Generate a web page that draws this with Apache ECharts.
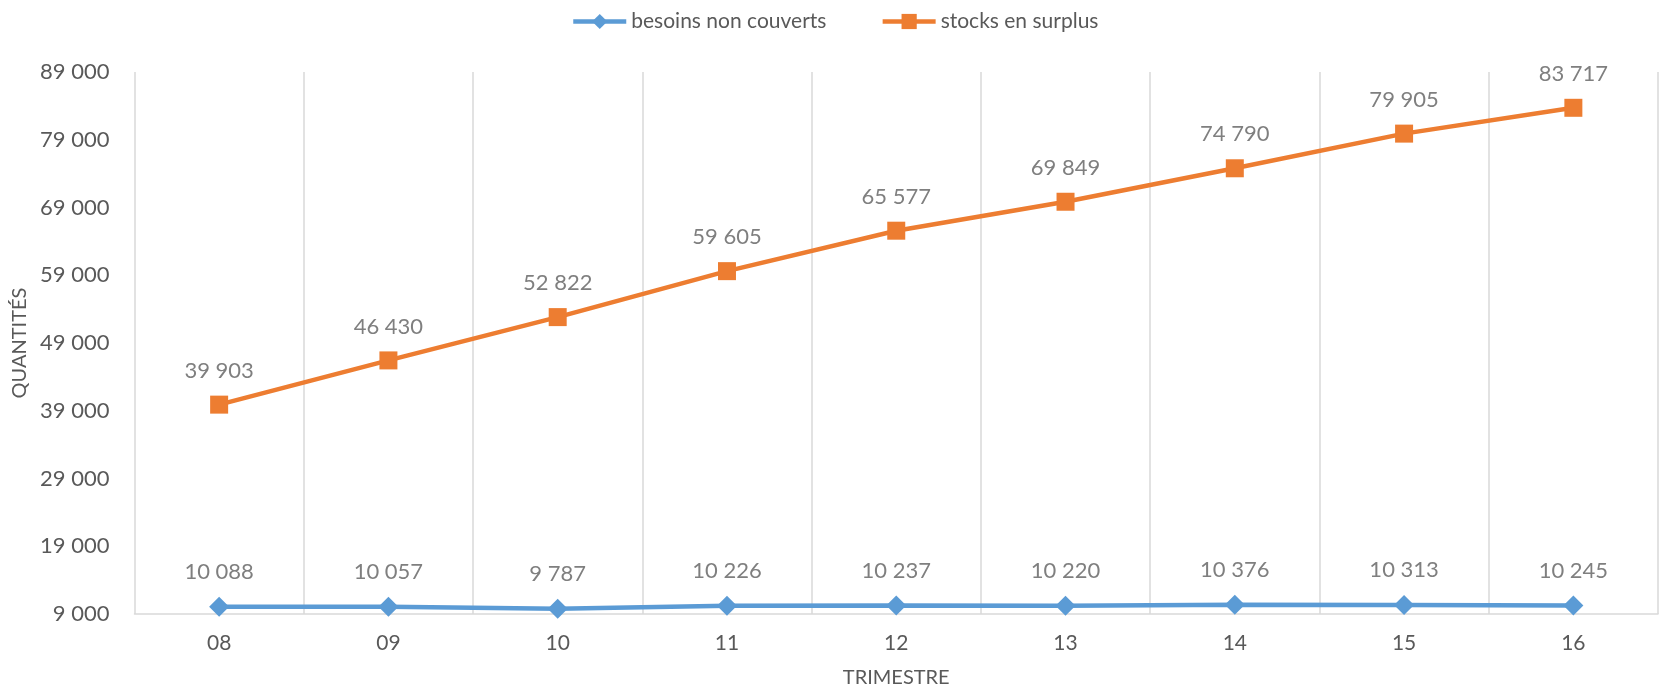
<!DOCTYPE html>
<html>
<head>
<meta charset="utf-8">
<script src="https://cdn.jsdelivr.net/npm/echarts@6/dist/echarts.min.js"></script>
<style>
html,body{margin:0;padding:0;background:#fff;}
#chart{width:1660px;height:689px;}
</style>
</head>
<body>
<div id="chart"></div>
<script>
const categories = ['08','09','10','11','12','13','14','15','16'];
const besoins = [10088, 10057, 9787, 10226, 10237, 10220, 10376, 10313, 10245];
const stocks = [39903, 46430, 52822, 59605, 65577, 69849, 74790, 79905, 83717];
const seriesNames = ['besoins non couverts', 'stocks en surplus'];

function fmt(v){ return String(Math.round(v)).replace(/\B(?=(\d{3})+(?!\d))/g, ' '); }

const FONT = 'Lato';
const chart = echarts.init(document.getElementById('chart'), null, {renderer:'canvas'});
chart.setOption({
  backgroundColor:'#fff',
  animation:false,
  textStyle:{fontFamily:FONT},
  legend:{
    top:6, left:566,
    itemWidth:53, itemHeight:19, itemGap:54,
    lineStyle:{width:4.5},
    textStyle:{fontSize:21, color:'#595959', fontFamily:FONT},
    data:seriesNames
  },
  grid:{left:134.5, right:2, top:72, bottom:75, outerBoundsMode:'none', containLabel:false},
  xAxis:{
    type:'category', data:categories, boundaryGap:true,
    name:'TRIMESTRE', nameLocation:'middle', nameGap:54,
    nameTextStyle:{fontSize:20, color:'#595959', fontFamily:FONT},
    axisLine:{lineStyle:{color:'#d9d9d9', width:1.5}},
    axisTick:{show:false},
    axisLabel:{fontSize:21, color:'#595959', margin:19, fontFamily:FONT},
    splitLine:{show:true, lineStyle:{color:'#d9d9d9', width:1.5}}
  },
  yAxis:{
    type:'value', min:9000, max:89000, interval:10000,
    name:'QUANTITÉS', nameLocation:'middle', nameGap:101, nameRotate:90,
    nameTextStyle:{fontSize:20, color:'#595959', fontFamily:FONT},
    axisLine:{show:false}, axisTick:{show:false},
    axisLabel:{fontSize:22, color:'#595959', margin:25, formatter:fmt, fontFamily:FONT},
    splitLine:{show:false}
  },
  series:[
    {
      name:seriesNames[0], type:'line', data:besoins,
      symbol:'diamond', symbolSize:20,
      lineStyle:{color:'#5b9bd5', width:4.5},
      itemStyle:{color:'#5b9bd5'},
      label:{show:true, position:'top', distance:14, fontSize:22, color:'#7f7f7f', formatter:p=>fmt(p.value), fontFamily:FONT}
    },
    {
      name:seriesNames[1], type:'line', data:stocks,
      symbol:'rect', symbolSize:18,
      lineStyle:{color:'#ed7d31', width:4.5},
      itemStyle:{color:'#ed7d31'},
      label:{show:true, position:'top', distance:14, fontSize:22, color:'#7f7f7f', formatter:p=>fmt(p.value), fontFamily:FONT}
    }
  ]
});
</script>
</body>
</html>
